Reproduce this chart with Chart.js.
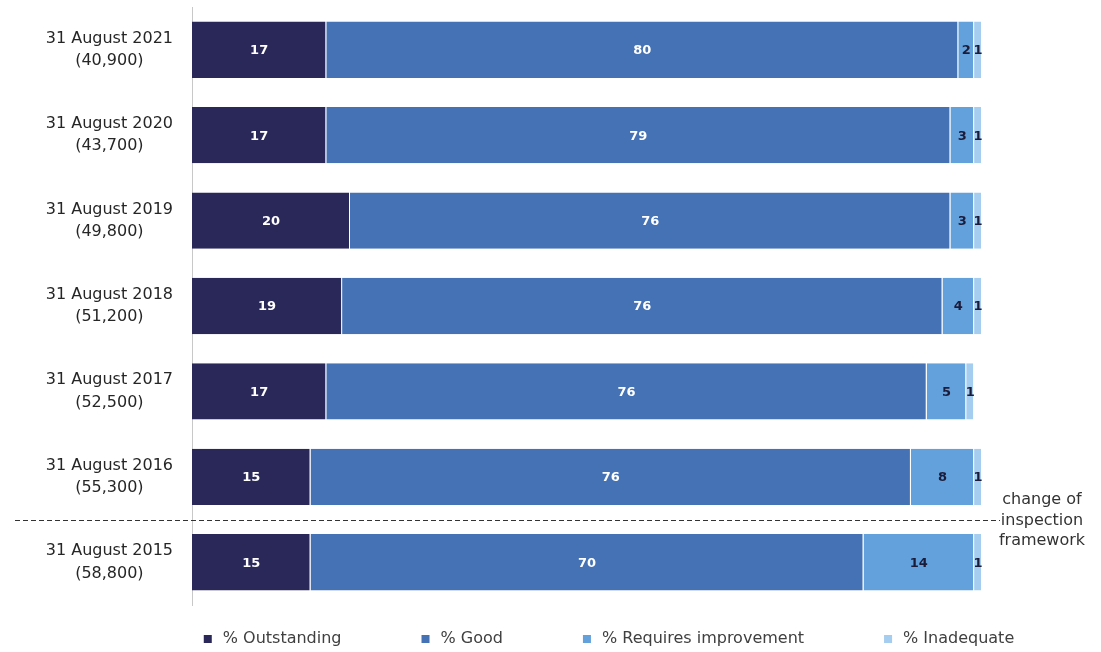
<!DOCTYPE html>
<html>
<head>
<meta charset="utf-8">
<script src="https://cdn.jsdelivr.net/npm/chart.js@4"></script>
<style>
  html, body { margin: 0; padding: 0; background: #fff; }
  #wrap { width: 1101px; height: 652px; position: relative; }
</style>
</head>
<body>
<div id="wrap"><canvas id="gradesChart"></canvas></div>
<script>
// Inspection outcomes by year (percent of providers)
const years = [
  ['31 August 2021', '(40,900)'],
  ['31 August 2020', '(43,700)'],
  ['31 August 2019', '(49,800)'],
  ['31 August 2018', '(51,200)'],
  ['31 August 2017', '(52,500)'],
  ['31 August 2016', '(55,300)'],
  ['31 August 2015', '(58,800)']
];
const outstanding = [17, 17, 20, 19, 17, 15, 15];
const good = [80, 79, 76, 76, 76, 76, 70];
const requiresImprovement = [2, 3, 3, 4, 5, 8, 14];
const inadequate = [1, 1, 1, 1, 1, 1, 1];

const seriesNames = ['% Outstanding', '% Good', '% Requires improvement', '% Inadequate'];
const seriesColours = ['#2a2859', '#4472b4', '#62a1dc', '#a4cdef'];
const labelColours = ['#ffffff', '#ffffff', '#1b1b3a', '#1b1b3a'];

// the framework changed between these two years
const frameworkChangeAfter = 5;
const frameworkNote = ['change of', 'inspection', 'framework'];

const FONT = '"DejaVu Sans", Verdana, sans-serif';

// value labels in the middle of each segment
const segmentLabels = {
  id: 'segmentLabels',
  afterDatasetsDraw(chart) {
    const ctx = chart.ctx;
    ctx.save();
    ctx.font = 'bold 13px ' + FONT;
    ctx.textAlign = 'center';
    ctx.textBaseline = 'middle';
    chart.data.datasets.forEach((ds, i) => {
      const meta = chart.getDatasetMeta(i);
      ctx.fillStyle = labelColours[i];
      meta.data.forEach((bar, j) => {
        const p = bar.getProps(['x', 'y', 'base'], true);
        ctx.fillText(ds.data[j], (p.x + p.base) / 2, p.y + 1);
      });
    });
    ctx.restore();
  }
};

// dashed divider + note at the right
const frameworkDivider = {
  id: 'frameworkDivider',
  afterDraw(chart) {
    const ctx = chart.ctx;
    const y = chart.scales.y;
    const lineY = Math.round((y.getPixelForValue(frameworkChangeAfter) + y.getPixelForValue(frameworkChangeAfter + 1)) / 2) + 0.5;
    ctx.save();
    ctx.strokeStyle = '#333333';
    ctx.lineWidth = 1;
    ctx.setLineDash([5, 3]);
    ctx.beginPath();
    ctx.moveTo(15, lineY);
    ctx.lineTo(chart.chartArea.right + 18, lineY);
    ctx.stroke();
    ctx.setLineDash([]);
    ctx.fillStyle = '#333333';
    ctx.font = '16px ' + FONT;
    ctx.textAlign = 'center';
    ctx.textBaseline = 'middle';
    frameworkNote.forEach((line, k) => {
      ctx.fillText(line, 1042, lineY + (k - 1) * 20.5);
    });
    ctx.restore();
  }
};

// legend row along the bottom
const bottomLegend = {
  id: 'bottomLegend',
  afterDraw(chart) {
    const ctx = chart.ctx;
    ctx.save();
    ctx.font = '16px ' + FONT;
    ctx.textBaseline = 'middle';
    const box = 8, gapText = 11, gapItem = 80;
    const widths = seriesNames.map(n => box + gapText + ctx.measureText(n).width);
    const total = widths.reduce((a, b) => a + b, 0) + gapItem * (widths.length - 1);
    let x = 609 - total / 2;
    const yMid = 639;
    seriesNames.forEach((name, i) => {
      ctx.fillStyle = seriesColours[i];
      ctx.fillRect(x, yMid - box / 2, box, box);
      ctx.fillStyle = '#404040';
      ctx.fillText(name, x + box + gapText, yMid);
      x += widths[i] + gapItem;
    });
    ctx.restore();
  }
};

const seriesData = [outstanding, good, requiresImprovement, inadequate];

new Chart(document.getElementById('gradesChart'), {
  type: 'bar',
  data: {
    labels: years,
    datasets: seriesData.map((values, i) => ({
      label: seriesNames[i],
      data: values,
      backgroundColor: seriesColours[i],
      borderColor: '#ffffff',
      borderWidth: { left: 0, right: 1, top: 0, bottom: 0 },
      borderSkipped: false,
      categoryPercentage: 1,
      barPercentage: 0.66
    }))
  },
  options: {
    indexAxis: 'y',
    responsive: true,
    maintainAspectRatio: false,
    animation: false,
    layout: { padding: { left: 0, right: 119, top: 7, bottom: 47 } },
    plugins: {
      legend: { display: false },
      tooltip: { enabled: false }
    },
    scales: {
      x: {
        stacked: true,
        min: 0,
        max: 100,
        display: false
      },
      y: {
        stacked: true,
        grid: { display: false, drawTicks: false },
        border: { display: true, color: '#c8c8c8', width: 1 },
        ticks: {
          crossAlign: 'center',
          padding: 19,
          color: '#262626',
          font: { family: FONT, size: 16, lineHeight: 1.4 }
        },
        afterFit(scale) {
          scale.width = 192;
          scale.paddingTop = 0;
          scale.paddingBottom = 0;
        }
      }
    }
  },
  plugins: [segmentLabels, frameworkDivider, bottomLegend]
});
</script>
</body>
</html>
